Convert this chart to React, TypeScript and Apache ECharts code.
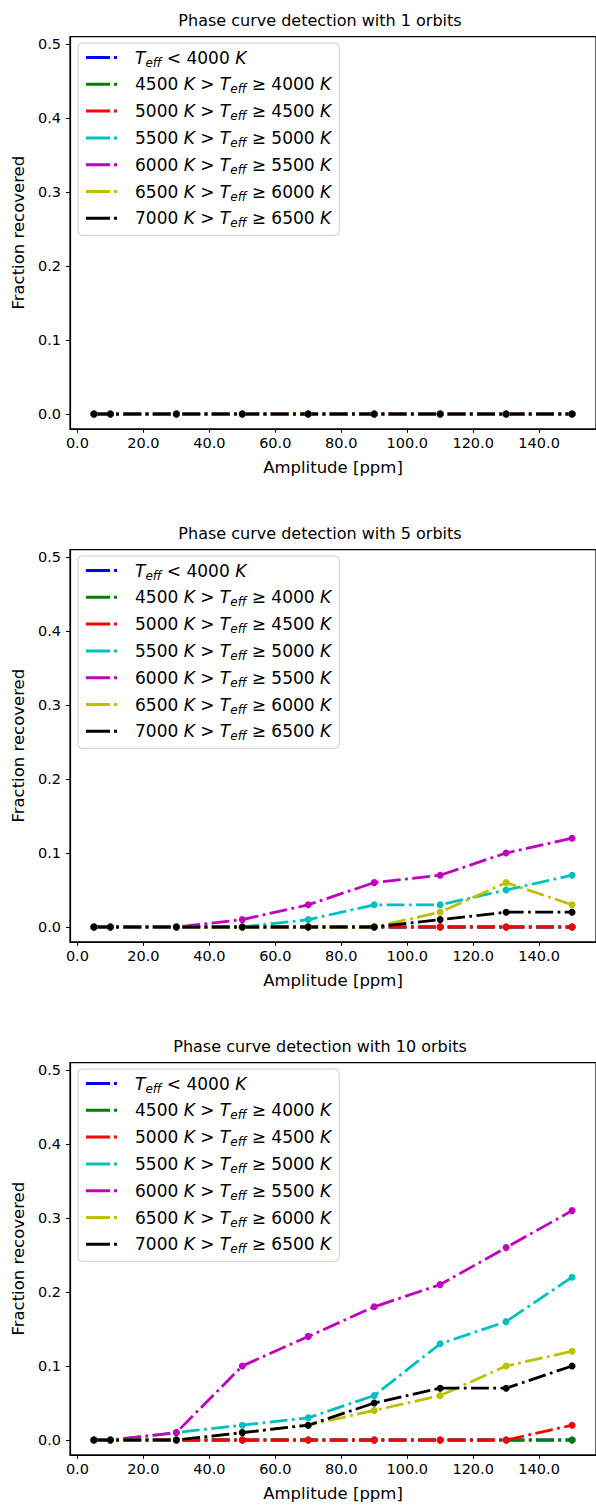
import React, { useEffect, useRef } from "react";
import * as echarts from "echarts";

// Injected amplitudes (ppm) and the axis ticks
const amplitudes = [5, 10, 30, 50, 70, 90, 110, 130, 150];
const xTicks = [0, 20, 40, 60, 80, 100, 120, 140];
const yTicks = [0, 0.1, 0.2, 0.3, 0.4, 0.5];
const orbitCounts = [1, 5, 10];

// Effective temperature bins (series names) and their colours
const bandNames = [
  "T_eff < 4000 K",
  "4500 K > T_eff ≥ 4000 K",
  "5000 K > T_eff ≥ 4500 K",
  "5500 K > T_eff ≥ 5000 K",
  "6000 K > T_eff ≥ 5500 K",
  "6500 K > T_eff ≥ 6000 K",
  "7000 K > T_eff ≥ 6500 K",
];
const bandLabels = [
  "{i|T}{s|eff}{n| < 4000 }{i|K}",
  "{n|4500 }{i|K}{n| > }{i|T}{s|eff}{n| ≥ 4000 }{i|K}",
  "{n|5000 }{i|K}{n| > }{i|T}{s|eff}{n| ≥ 4500 }{i|K}",
  "{n|5500 }{i|K}{n| > }{i|T}{s|eff}{n| ≥ 5000 }{i|K}",
  "{n|6000 }{i|K}{n| > }{i|T}{s|eff}{n| ≥ 5500 }{i|K}",
  "{n|6500 }{i|K}{n| > }{i|T}{s|eff}{n| ≥ 6000 }{i|K}",
  "{n|7000 }{i|K}{n| > }{i|T}{s|eff}{n| ≥ 6500 }{i|K}",
];
const bandColors = ["#0000ff", "#008000", "#ff0000", "#00bfbf", "#bf00bf", "#bfbf00", "#000000"];

// Fraction recovered, one row per temperature bin, for 1 orbit
const recovered1Orbit = [
  [0, 0, 0, 0, 0, 0, 0, 0, 0],
  [0, 0, 0, 0, 0, 0, 0, 0, 0],
  [0, 0, 0, 0, 0, 0, 0, 0, 0],
  [0, 0, 0, 0, 0, 0, 0, 0, 0],
  [0, 0, 0, 0, 0, 0, 0, 0, 0],
  [0, 0, 0, 0, 0, 0, 0, 0, 0],
  [0, 0, 0, 0, 0, 0, 0, 0, 0],
];

// Fraction recovered for 5 orbits
const recovered5Orbits = [
  [0, 0, 0, 0, 0, 0, 0, 0, 0],
  [0, 0, 0, 0, 0, 0, 0, 0, 0],
  [0, 0, 0, 0, 0, 0, 0, 0, 0],
  [0, 0, 0, 0, 0.01, 0.03, 0.03, 0.05, 0.07],
  [0, 0, 0, 0.01, 0.03, 0.06, 0.07, 0.1, 0.12],
  [0, 0, 0, 0, 0, 0, 0.02, 0.06, 0.03],
  [0, 0, 0, 0, 0, 0, 0.01, 0.02, 0.02],
];

// Fraction recovered for 10 orbits
const recovered10Orbits = [
  [0, 0, 0, 0, 0, 0, 0, 0, 0],
  [0, 0, 0, 0, 0, 0, 0, 0, 0],
  [0, 0, 0, 0, 0, 0, 0, 0, 0.02],
  [0, 0, 0.01, 0.02, 0.03, 0.06, 0.13, 0.16, 0.22],
  [0, 0, 0.01, 0.1, 0.14, 0.18, 0.21, 0.26, 0.31],
  [0, 0, 0, 0.01, 0.02, 0.04, 0.06, 0.1, 0.12],
  [0, 0, 0, 0.01, 0.02, 0.05, 0.07, 0.07, 0.1],
];

const panels = [recovered1Orbit, recovered5Orbits, recovered10Orbits];

const FONT = "DejaVu Sans";
const PANEL_STEP = 513;
const GRID_LEFT = 70;
const GRID_WIDTH = 527;
const GRID_TOP = 36.6;
const GRID_HEIGHT = 392.2;
const LW = 2.78;
const DASH_DOT = [17.8, 4.45, 2.78, 4.45];
// dash + dot legend key, with a zero-area tail that widens the key box
const LEGEND_ICON = "path://M0,0H24V3H0Z M28,0H31V3H28Z M44,0L44,3";

export default function App() {
  const ref = useRef<HTMLDivElement>(null);

  useEffect(() => {
    if (!ref.current) return;
    const chart = echarts.init(ref.current, null, { renderer: "svg" });

    const labelOf: Record<string, string> = {};
    bandNames.forEach((n, i) => (labelOf[n] = bandLabels[i]));

    const grids = panels.map((_, i) => ({
      left: GRID_LEFT,
      top: GRID_TOP + PANEL_STEP * i,
      width: GRID_WIDTH,
      height: GRID_HEIGHT,
      show: true,
      borderColor: "#000",
      borderWidth: 1.2,
      backgroundColor: "transparent",
    }));

    const xAxes = panels.map((_, i) => ({
      type: "value",
      gridIndex: i,
      min: -2.25,
      max: 157.25,
      name: "Amplitude [ppm]",
      nameLocation: "middle",
      nameGap: 30,
      nameTextStyle: { fontFamily: FONT, fontSize: 16.5, color: "#000" },
      axisLine: { show: true, onZero: false, lineStyle: { color: "#000", width: 1.2 } },
      axisTick: { show: true, inside: false, length: 4, lineStyle: { color: "#000", width: 1 }, customValues: xTicks },
      axisLabel: {
        customValues: xTicks,
        formatter: (v: number) => v.toFixed(1),
        fontFamily: FONT,
        fontSize: 14.5,
        color: "#000",
        margin: 7,
      },
      splitLine: { show: false },
    }));

    const yAxes = panels.map((_, i) => ({
      type: "value",
      gridIndex: i,
      min: -0.02,
      max: 0.51,
      name: "Fraction recovered",
      nameLocation: "middle",
      nameRotate: 90,
      nameGap: 40,
      nameTextStyle: { fontFamily: FONT, fontSize: 16.5, color: "#000" },
      axisLine: { show: true, onZero: false, lineStyle: { color: "#000", width: 1.2 } },
      axisTick: { show: true, inside: false, length: 4, lineStyle: { color: "#000", width: 1 }, customValues: yTicks },
      axisLabel: {
        customValues: yTicks,
        formatter: (v: number) => v.toFixed(1),
        fontFamily: FONT,
        fontSize: 14.5,
        color: "#000",
        margin: 9,
      },
      splitLine: { show: false },
    }));

    const series: any[] = [];
    panels.forEach((rows, p) => {
      rows.forEach((vals, b) => {
        series.push({
          type: "line",
          name: bandNames[b],
          xAxisIndex: p,
          yAxisIndex: p,
          data: amplitudes.map((a, j) => [a, vals[j]]),
          symbol: "circle",
          symbolSize: 7,
          showSymbol: true,
          clip: false,
          color: bandColors[b],
          itemStyle: { color: bandColors[b], borderWidth: 0 },
          lineStyle: { color: bandColors[b], width: LW, type: DASH_DOT, cap: "butt" },
          emphasis: { disabled: true },
          z: 2,
        });
      });
    });

    const legends = panels.map((_, i) => ({
      orient: "vertical",
      left: 78,
      top: 43 + PANEL_STEP * i,
      data: bandNames,
      icon: LEGEND_ICON,
      itemWidth: 44,
      itemHeight: 3,
      itemGap: 7.3,
      symbolKeepAspect: false,
      selectedMode: false,
      padding: [6, 8, 6, 8],
      backgroundColor: "rgba(255,255,255,0.8)",
      borderColor: "#cccccc",
      borderWidth: 1,
      borderRadius: 4,
      itemStyle: { borderWidth: 0 },
      formatter: (name: string) => labelOf[name],
      textStyle: {
        fontFamily: FONT,
        fontSize: 17,
        color: "#000",
        rich: {
          n: { fontFamily: FONT, fontSize: 17, lineHeight: 22, color: "#000" },
          i: { fontFamily: FONT, fontSize: 17, fontStyle: "italic", lineHeight: 22, color: "#000" },
          s: { fontFamily: FONT, fontSize: 12, fontStyle: "italic", lineHeight: 11, verticalAlign: "bottom", color: "#000" },
        },
      },
      z: 5,
    }));

    const titles = orbitCounts.map((n, i) => ({
      type: "text",
      x: 320,
      y: 20 + PANEL_STEP * i,
      style: {
        text: `Phase curve detection with ${n} orbits`,
        align: "center",
        verticalAlign: "middle",
        fontFamily: FONT,
        fontSize: 16,
        fill: "#000",
      },
    }));

    chart.setOption({
      animation: false,
      backgroundColor: "#ffffff",
      grid: grids,
      xAxis: xAxes,
      yAxis: yAxes,
      legend: legends,
      series,
      graphic: titles,
    });

    return () => chart.dispose();
  }, []);

  return (
    <div
      ref={ref}
      style={{ position: "absolute", left: 0, top: 0, width: 596, height: 1506 }}
    />
  );
}
